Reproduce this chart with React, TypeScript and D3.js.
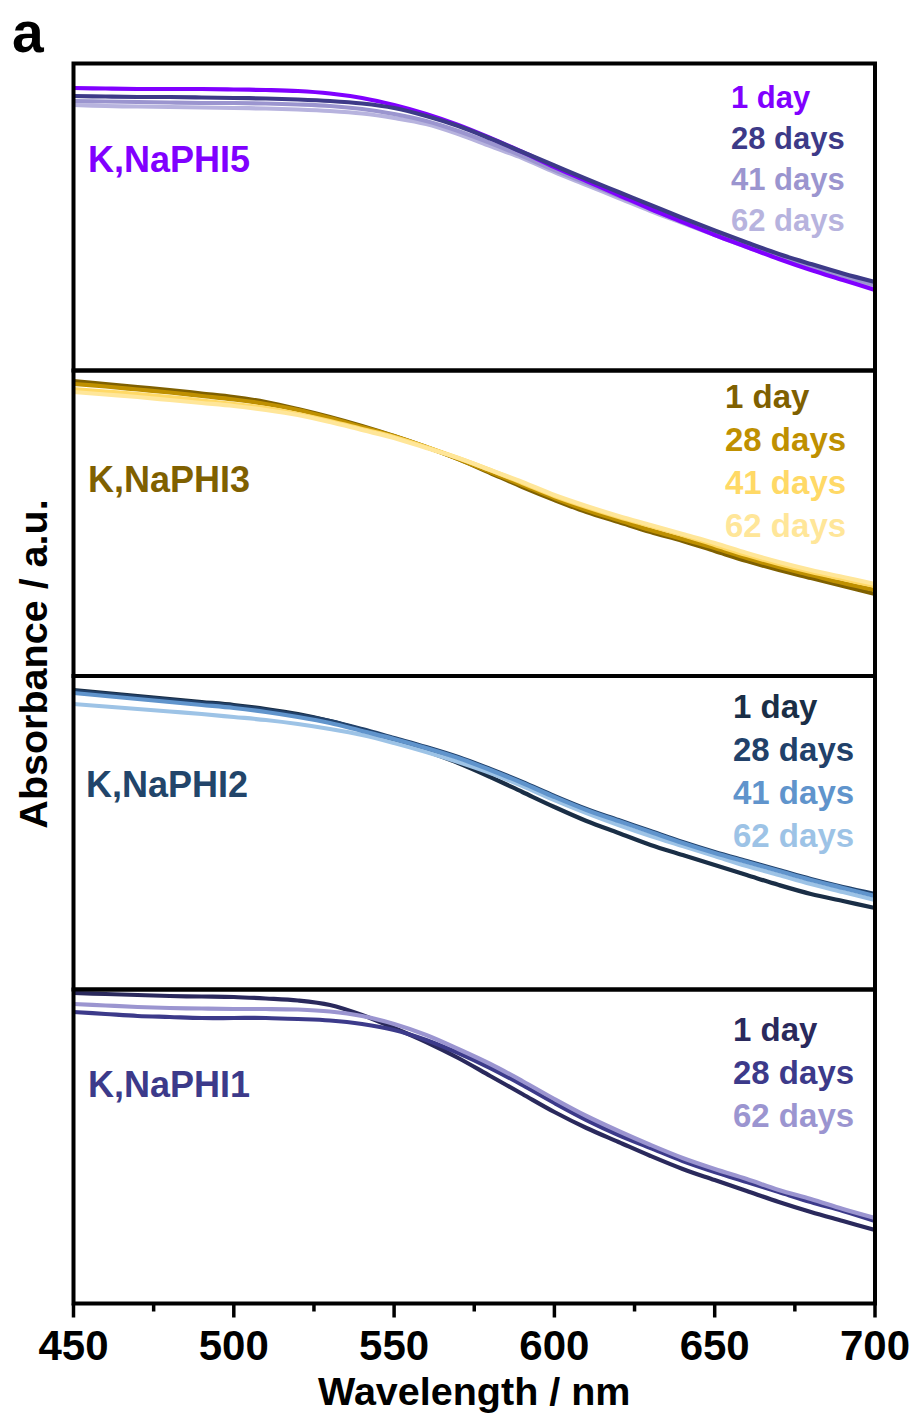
import React from 'react';
import * as d3 from 'd3';

// ---------- data ----------
const WAVELENGTHS = [450, 460, 470, 480, 490, 500, 510, 520, 530, 540, 550, 560, 570, 580, 590, 600, 610, 620, 630, 640, 650, 660, 670, 680, 690, 700];

const MAJOR_TICKS = [450, 500, 550, 600, 650, 700];
const MINOR_TICKS = [475, 525, 575, 625, 675];

// K,NaPHI5
const PHI5_1 = [2.82, 2.815, 2.81, 2.81, 2.81, 2.805, 2.80, 2.79, 2.765, 2.72, 2.65, 2.56, 2.45, 2.32, 2.18, 2.03, 1.89, 1.75, 1.61, 1.48, 1.35, 1.23, 1.11, 1.00, 0.90, 0.80];
const PHI5_28 = [2.74, 2.735, 2.73, 2.73, 2.725, 2.72, 2.715, 2.705, 2.69, 2.665, 2.62, 2.54, 2.44, 2.315, 2.18, 2.045, 1.91, 1.78, 1.65, 1.52, 1.395, 1.275, 1.16, 1.06, 0.965, 0.88];
const PHI5_41 = [2.69, 2.685, 2.68, 2.675, 2.67, 2.67, 2.665, 2.655, 2.64, 2.61, 2.56, 2.49, 2.39, 2.27, 2.14, 2.00, 1.87, 1.74, 1.61, 1.48, 1.36, 1.24, 1.13, 1.03, 0.94, 0.85];
const PHI5_62 = [2.65, 2.64, 2.635, 2.63, 2.625, 2.62, 2.615, 2.605, 2.59, 2.565, 2.52, 2.46, 2.36, 2.24, 2.12, 1.98, 1.85, 1.72, 1.59, 1.47, 1.35, 1.23, 1.12, 1.02, 0.93, 0.84];

// K,NaPHI3
const PHI3_1 = [2.94, 2.91, 2.88, 2.85, 2.815, 2.78, 2.73, 2.66, 2.58, 2.49, 2.39, 2.28, 2.16, 2.02, 1.88, 1.75, 1.63, 1.53, 1.43, 1.34, 1.24, 1.14, 1.05, 0.97, 0.89, 0.81];
const PHI3_28 = [2.91, 2.885, 2.855, 2.825, 2.79, 2.755, 2.71, 2.65, 2.57, 2.48, 2.39, 2.28, 2.16, 2.03, 1.90, 1.77, 1.65, 1.55, 1.45, 1.36, 1.27, 1.17, 1.08, 1.00, 0.92, 0.85];
const PHI3_41 = [2.86, 2.835, 2.81, 2.78, 2.745, 2.71, 2.67, 2.61, 2.54, 2.46, 2.38, 2.28, 2.17, 2.05, 1.92, 1.79, 1.68, 1.58, 1.49, 1.40, 1.30, 1.20, 1.11, 1.03, 0.96, 0.89];
const PHI3_62 = [2.83, 2.805, 2.78, 2.75, 2.72, 2.69, 2.65, 2.60, 2.53, 2.45, 2.37, 2.27, 2.17, 2.05, 1.93, 1.80, 1.69, 1.59, 1.50, 1.41, 1.32, 1.22, 1.13, 1.05, 0.98, 0.91];

// K,NaPHI2
const PHI2_1 = [3.00, 2.97, 2.94, 2.91, 2.88, 2.85, 2.81, 2.76, 2.69, 2.60, 2.50, 2.39, 2.27, 2.13, 1.98, 1.83, 1.69, 1.57, 1.45, 1.35, 1.25, 1.15, 1.05, 0.96, 0.89, 0.82];
const PHI2_28 = [2.99, 2.96, 2.93, 2.90, 2.87, 2.84, 2.80, 2.75, 2.69, 2.61, 2.52, 2.43, 2.33, 2.21, 2.08, 1.94, 1.81, 1.70, 1.59, 1.48, 1.38, 1.29, 1.20, 1.11, 1.03, 0.96];
const PHI2_41 = [2.97, 2.94, 2.91, 2.88, 2.85, 2.82, 2.78, 2.73, 2.67, 2.59, 2.51, 2.42, 2.32, 2.20, 2.07, 1.93, 1.80, 1.69, 1.58, 1.47, 1.37, 1.28, 1.19, 1.10, 1.02, 0.94];
const PHI2_62 = [2.86, 2.835, 2.81, 2.785, 2.76, 2.73, 2.70, 2.66, 2.61, 2.55, 2.47, 2.38, 2.28, 2.17, 2.04, 1.90, 1.77, 1.65, 1.54, 1.44, 1.34, 1.24, 1.15, 1.06, 0.98, 0.90];

// K,NaPHI1
const PHI1_1 = [3.10, 3.09, 3.08, 3.07, 3.065, 3.06, 3.045, 3.025, 2.98, 2.88, 2.75, 2.61, 2.45, 2.27, 2.09, 1.91, 1.75, 1.61, 1.47, 1.34, 1.23, 1.12, 1.01, 0.91, 0.82, 0.73];
const PHI1_28 = [2.91, 2.89, 2.87, 2.86, 2.85, 2.85, 2.85, 2.84, 2.825, 2.79, 2.73, 2.63, 2.50, 2.35, 2.18, 2.00, 1.83, 1.68, 1.55, 1.42, 1.31, 1.21, 1.11, 1.01, 0.92, 0.82];
const PHI1_62 = [2.99, 2.975, 2.96, 2.95, 2.945, 2.94, 2.94, 2.935, 2.915, 2.87, 2.79, 2.68, 2.54, 2.39, 2.22, 2.04, 1.87, 1.72, 1.58, 1.45, 1.34, 1.24, 1.13, 1.04, 0.94, 0.85];

const NAMES = ['K,NaPHI5', 'K,NaPHI3', 'K,NaPHI2', 'K,NaPHI1'];
const NAME_COLORS = ['#8000ff', '#7f6000', '#22456a', '#3c3a8a'];
const LEGEND_LABELS = [
  ['1 day', '28 days', '41 days', '62 days'],
  ['1 day', '28 days', '41 days', '62 days'],
  ['1 day', '28 days', '41 days', '62 days'],
  ['1 day', '28 days', '62 days'],
];
const SERIES_COLORS = [
  ['#8000ff', '#3d3a88', '#9b95cf', '#b7b3de'],
  ['#7f6000', '#bf9000', '#ffd966', '#ffe699'],
  ['#1a2e46', '#21416a', '#6094cc', '#9dc3e6'],
  ['#2a295c', '#3c3a8a', '#9b95d0'],
];
const SERIES_VALUES = [
  [PHI5_1, PHI5_28, PHI5_41, PHI5_62],
  [PHI3_1, PHI3_28, PHI3_41, PHI3_62],
  [PHI2_1, PHI2_28, PHI2_41, PHI2_62],
  [PHI1_1, PHI1_28, PHI1_62],
];
// order in which series are painted (indices into the lists above)
const DRAW_ORDER = [
  [3, 2, 0, 1],
  [0, 1, 2, 3],
  [0, 3, 1, 2],
  [0, 1, 2],
];

// ---------- layout ----------
const PANEL_TOP = [63.5, 370.5, 676, 989.5];
const PANEL_BOTTOM = [370.5, 676, 989.5, 1303.5];
const BASE_Y = [370, 675, 990, 1303];
const NAME_POS = [[88, 172], [88, 492], [86, 797], [88, 1097]];
const LEGEND_POS = [[731, 108, 41, 31], [725, 408, 43, 33], [733, 718, 43, 33], [733, 1041, 43, 33]];

const FONT = "'Liberation Sans', Arial, Helvetica, sans-serif";

export default function App() {
  const x = d3.scaleLinear().domain([450, 700]).range([73.5, 875]);
  const left = 73.5;
  const right = 875;
  const axisBottom = PANEL_BOTTOM[3];

  return (
    <svg width={915} height={1416} style={{ position: 'absolute', left: 0, top: 0 }} fontFamily={FONT}>
      <rect x={0} y={0} width={915} height={1416} fill="#fff" />
      <text x={12} y={52} fontSize={57} fontWeight="bold" fill="#000">a</text>

      {NAMES.map((name, p) => {
        const y = d3.scaleLinear().domain([0, 3]).range([BASE_Y[p], BASE_Y[p] - 300]);
        const line = d3
          .line<number>()
          .x((_, i) => x(WAVELENGTHS[i]))
          .y((v) => y(v))
          .curve(d3.curveCatmullRom.alpha(0.5));
        const [lx, ly, ldy, lfs] = LEGEND_POS[p];
        return (
          <g key={name}>
            {DRAW_ORDER[p].map((si) => (
              <path
                key={si}
                d={line(SERIES_VALUES[p][si]) || ''}
                fill="none"
                stroke={SERIES_COLORS[p][si]}
                strokeWidth={4.2}
                strokeLinejoin="round"
                strokeLinecap="butt"
              />
            ))}
            <text x={NAME_POS[p][0]} y={NAME_POS[p][1]} fontSize={36} fontWeight="bold" fill={NAME_COLORS[p]}>
              {name}
            </text>
            {LEGEND_LABELS[p].map((lab, i) => (
              <text key={lab} x={lx} y={ly + i * ldy} fontSize={lfs} fontWeight="bold" fill={SERIES_COLORS[p][i]}>
                {lab}
              </text>
            ))}
            <rect
              x={left}
              y={PANEL_TOP[p]}
              width={right - left}
              height={PANEL_BOTTOM[p] - PANEL_TOP[p]}
              fill="none"
              stroke="#000"
              strokeWidth={4}
            />
          </g>
        );
      })}

      {/* x axis ticks */}
      {MAJOR_TICKS.map((t) => (
        <g key={t}>
          <line x1={x(t)} x2={x(t)} y1={axisBottom} y2={axisBottom + 14} stroke="#000" strokeWidth={3.5} />
          <text x={x(t)} y={1360} fontSize={42} fontWeight="bold" textAnchor="middle" fill="#000">
            {t}
          </text>
        </g>
      ))}
      {MINOR_TICKS.map((t) => (
        <line key={t} x1={x(t)} x2={x(t)} y1={axisBottom} y2={axisBottom + 8} stroke="#000" strokeWidth={3.5} />
      ))}

      <text x={(left + right) / 2} y={1405} fontSize={39.5} fontWeight="bold" textAnchor="middle" fill="#000">
        Wavelength / nm
      </text>
      <text
        transform={`translate(47, 664) rotate(-90)`}
        fontSize={39.5}
        fontWeight="bold"
        textAnchor="middle"
        fill="#000"
      >
        Absorbance / a.u.
      </text>
    </svg>
  );
}
